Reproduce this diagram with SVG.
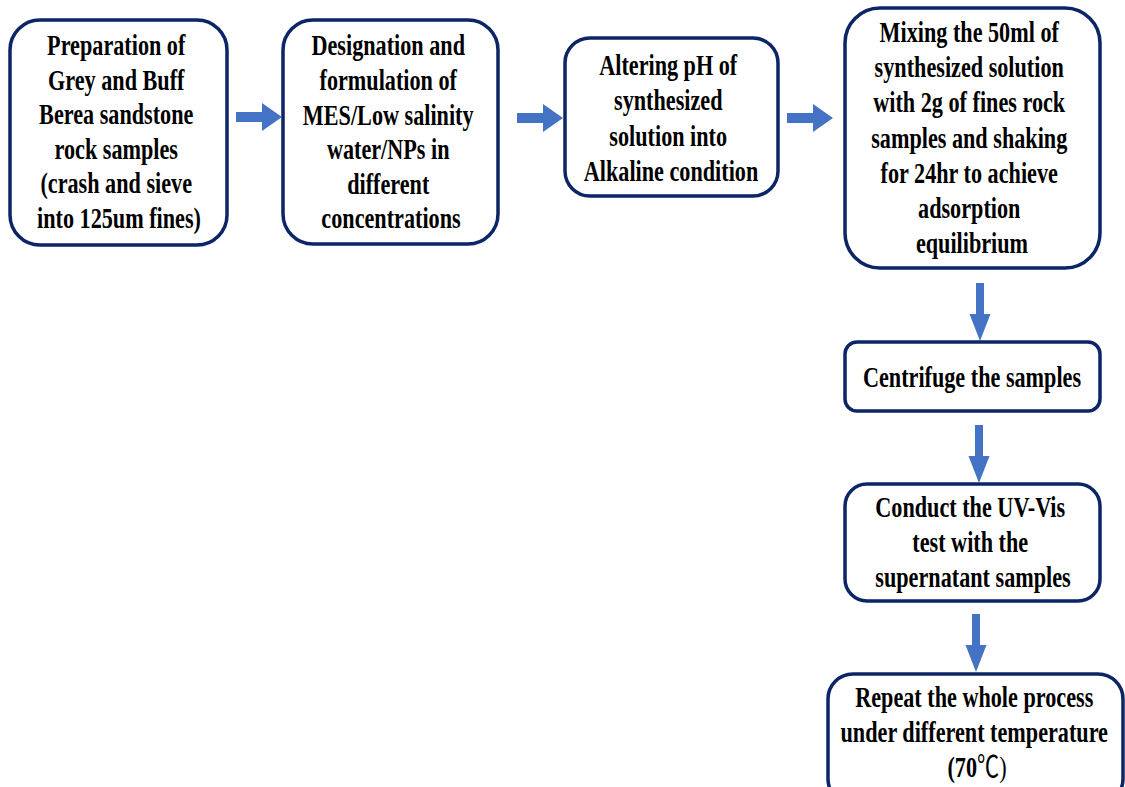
<svg xmlns="http://www.w3.org/2000/svg" xmlns:xlink="http://www.w3.org/1999/xlink" width="1125" height="787" viewBox="0 0 1125 787">
  <style>
    .box { fill: #ffffff; stroke: #0b2566; stroke-width: 3.5; }
    .lbl { font-family: "Liberation Serif", "Times New Roman", serif; font-weight: bold; font-size: 30px; fill: #000000; text-anchor: middle; }
    .thin { font-weight: normal; font-family: "Liberation Serif", "Noto Sans CJK SC", serif; }
    .arrow { fill: #4472C4; }
  </style>
  <defs>
    <!-- block arrows, tip at the origin -->
    <path id="arrowRight" d="M-46,-5 H-20 V-14 L0,0 L-20,14 V5 H-46 Z"/>
    <path id="arrowDown" d="M-4,-58 H4 V-27 H10.5 L0,0 L-10.5,-27 H-4 Z"/>
  </defs>
  <rect width="1125" height="787" fill="#ffffff"/>

  <g id="connectors" class="arrow">
    <use xlink:href="#arrowRight" x="282" y="117"/>
    <use xlink:href="#arrowRight" x="563" y="118"/>
    <use xlink:href="#arrowRight" x="833" y="118"/>
    <use xlink:href="#arrowDown" x="980" y="341"/>
    <use xlink:href="#arrowDown" x="979" y="483"/>
    <use xlink:href="#arrowDown" x="976" y="672"/>
  </g>

  <g id="prep">
    <rect class="box" x="10" y="20" width="217" height="225" rx="30"/>
    <g transform="translate(119 0) scale(0.74 1)">
      <text class="lbl">
        <tspan x="0" y="55">Preparation of</tspan>
        <tspan x="0" y="89.6">Grey and Buff</tspan>
        <tspan x="0" y="124.2">Berea sandstone</tspan>
        <tspan x="0" y="158.8">rock samples</tspan>
        <tspan x="0" y="193.4">(crash and sieve</tspan>
        <tspan x="0" y="228">into 125um fines)</tspan>
      </text>
    </g>
  </g>

  <g id="design">
    <rect class="box" x="283" y="20" width="215" height="224" rx="30"/>
    <g transform="translate(391 0) scale(0.74 1)">
      <text class="lbl">
        <tspan x="0" y="55.5">Designation and</tspan>
        <tspan x="0" y="90.1">formulation of</tspan>
        <tspan x="0" y="124.7">MES/Low salinity</tspan>
        <tspan x="0" y="159.3">water/NPs in</tspan>
        <tspan x="0" y="193.9">different</tspan>
        <tspan x="0" y="228.5">concentrations</tspan>
      </text>
    </g>
  </g>

  <g id="alter-ph">
    <rect class="box" x="565" y="38" width="213" height="158" rx="25"/>
    <g transform="translate(671 0) scale(0.74 1)">
      <text class="lbl">
        <tspan x="0" y="75">Altering pH of</tspan>
        <tspan x="0" y="110.5">synthesized</tspan>
        <tspan x="0" y="146">solution into</tspan>
        <tspan x="0" y="181.5">Alkaline condition</tspan>
      </text>
    </g>
  </g>

  <g id="mixing">
    <rect class="box" x="845" y="8" width="255" height="260" rx="35"/>
    <g transform="translate(972 0) scale(0.74 1)">
      <text class="lbl">
        <tspan x="0" y="42">Mixing the 50ml of</tspan>
        <tspan x="0" y="77.2">synthesized solution</tspan>
        <tspan x="0" y="112.4">with 2g of fines rock</tspan>
        <tspan x="0" y="147.6">samples and shaking</tspan>
        <tspan x="0" y="182.8">for 24hr to achieve</tspan>
        <tspan x="0" y="218">adsorption</tspan>
        <tspan x="0" y="253.2">equilibrium</tspan>
      </text>
    </g>
  </g>

  <g id="centrifuge">
    <rect class="box" x="845" y="342" width="255" height="69" rx="12"/>
    <g transform="translate(972 0) scale(0.74 1)">
      <text class="lbl"><tspan x="0" y="387">Centrifuge the samples</tspan></text>
    </g>
  </g>

  <g id="uv-vis">
    <rect class="box" x="845" y="484" width="255" height="117" rx="22"/>
    <g transform="translate(973 0) scale(0.74 1)">
      <text class="lbl">
        <tspan x="0" y="516.7">Conduct the UV-Vis</tspan>
        <tspan x="0" y="551.7">test with the</tspan>
        <tspan x="0" y="586.7">supernatant samples</tspan>
      </text>
    </g>
  </g>

  <g id="repeat">
    <rect class="box" x="828" y="674" width="295" height="130" rx="25"/>
    <g transform="translate(977 0) scale(0.74 1)">
      <text class="lbl">
        <tspan x="0" y="706.7">Repeat the whole process</tspan>
        <tspan x="0" y="741.7">under different temperature</tspan>
        <tspan x="0" y="776.7">(70<tspan class="thin">℃)</tspan></tspan>
      </text>
    </g>
  </g>
</svg>
